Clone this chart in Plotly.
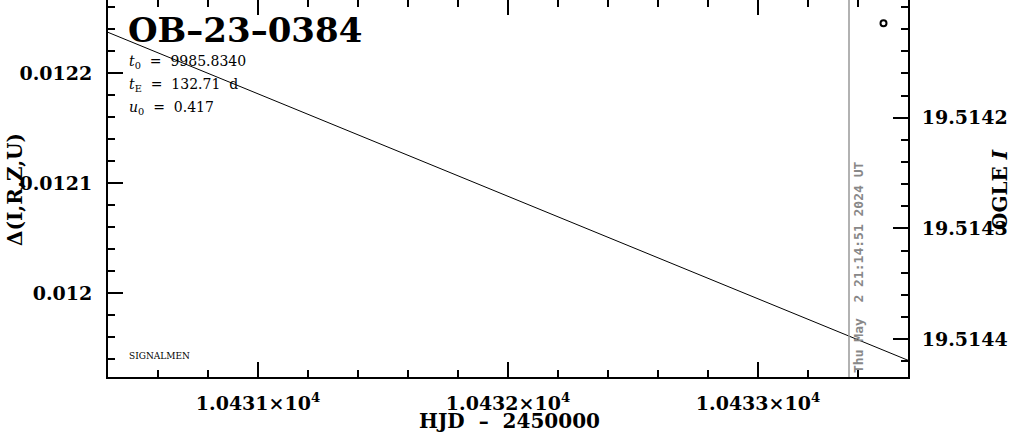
import plotly.graph_objects as go

# ---- data ----
hjd_model = [10430.4, 10431.2, 10432.0, 10432.8, 10433.6]
delta_model = [0.0122372, 0.0121627, 0.0120881, 0.0120136, 0.0119391]
hjd_obs = [10433.502]
delta_obs = [0.0122455]
now_hjd = 10433.364

x_tickvals = [10431, 10432, 10433]
x_ticktext = ["1.0431×10<sup>4</sup>", "1.0432×10<sup>4</sup>", "1.0433×10<sup>4</sup>"]
y_tickvals = [0.012, 0.0121, 0.0122]
y_ticktext = ["0.012", "0.0121", "0.0122"]
mag_tickvals = [19.5142, 19.5143, 19.5144]
mag_ticktext = ["19.5142", "19.5143", "19.5144"]

x_range = [10430.4, 10433.6]
y_range = [0.0119239, 0.0122666]
mag_range = [19.5144343, 19.5140936]

event_name = "OB–23–0384"
param_lines = [
    "<i>t</i><sub>0</sub> \u00a0= \u00a09985.8340",
    "<i>t</i><sub>E</sub> \u00a0= \u00a0132.71 \u00a0d",
    "<i>u</i><sub>0</sub> \u00a0= \u00a00.417",
]
stamp = "Thu May \u00a02 21:14:51 2024 UT"

SERIF = "DejaVu Serif"

fig = go.Figure()
fig.add_trace(go.Scatter(x=hjd_model, y=delta_model, mode="lines",
                         line=dict(color="black", width=1), showlegend=False,
                         hoverinfo="skip"))
fig.add_trace(go.Scatter(x=hjd_obs, y=delta_obs, mode="markers",
                         marker=dict(symbol="circle-open", size=6, color="black",
                                     line=dict(width=2, color="black")),
                         showlegend=False))
# dummy traces to activate the secondary axes
fig.add_trace(go.Scatter(x=[None], y=[None], xaxis="x", yaxis="y2", showlegend=False))
fig.add_trace(go.Scatter(x=[None], y=[None], xaxis="x2", yaxis="y", showlegend=False))

tickfont = dict(family=SERIF, size=19, color="black", weight="bold")

fig.update_layout(
    width=1011, height=434,
    margin=dict(l=108, r=103, t=0, b=57, autoexpand=False),
    plot_bgcolor="white", paper_bgcolor="white",
    xaxis=dict(range=x_range, tickmode="array", tickvals=x_tickvals, ticktext=x_ticktext,
               ticks="inside", ticklen=15, tickwidth=2, tickcolor="black",
               showline=True, linewidth=2, linecolor="black", showgrid=False,
               zeroline=False, tickfont=tickfont, ticklabelstandoff=8, automargin=False,
               minor=dict(tickmode="linear", tick0=10430.0, dtick=0.2, ticks="inside",
                          ticklen=7, tickwidth=2, tickcolor="black", showgrid=False)),
    xaxis2=dict(range=x_range, overlaying="x", side="top", matches="x",
                tickmode="array", tickvals=x_tickvals, showticklabels=False,
                ticks="inside", ticklen=15, tickwidth=2, tickcolor="black",
                showline=False, showgrid=False, zeroline=False, automargin=False,
                minor=dict(tickmode="linear", tick0=10430.0, dtick=0.2, ticks="inside",
                           ticklen=7, tickwidth=2, tickcolor="black", showgrid=False)),
    yaxis=dict(range=y_range, tickmode="array", tickvals=y_tickvals, ticktext=y_ticktext,
               ticks="inside", ticklen=15, tickwidth=2, tickcolor="black",
               showline=True, linewidth=2, linecolor="black", showgrid=False,
               zeroline=False, tickfont=tickfont, ticklabelstandoff=10, automargin=False,
               minor=dict(tickmode="linear", tick0=0.012, dtick=0.00002, ticks="inside",
                          ticklen=7, tickwidth=2, tickcolor="black", showgrid=False)),
    yaxis2=dict(range=mag_range, overlaying="y", side="right",
                tickmode="array", tickvals=mag_tickvals, ticktext=mag_ticktext,
                ticks="inside", ticklen=15, tickwidth=2, tickcolor="black",
                showline=True, linewidth=2, linecolor="black", showgrid=False,
                zeroline=False, tickfont=tickfont, ticklabelstandoff=8, automargin=False,
                minor=dict(tickmode="linear", tick0=19.5142, dtick=0.00002, ticks="inside",
                           ticklen=7, tickwidth=2, tickcolor="black", showgrid=False)),
)

fig.add_shape(type="line", xref="x", yref="paper", x0=now_hjd, x1=now_hjd, y0=0, y1=1,
              line=dict(color="#999999", width=1.5))

ann = []
ann.append(dict(text="<b>" + event_name + "</b>", xref="paper", yref="paper",
                x=0.023, y=0.92, xanchor="left", yanchor="middle", showarrow=False,
                font=dict(family=SERIF, size=34, color="black")))
for i, (t, py) in enumerate(zip(param_lines, [62, 85, 108])):
    ann.append(dict(text=t, xref="paper", yref="paper", x=0.024, y=(377 - py) / 377,
                    xanchor="left", yanchor="middle", showarrow=False,
                    font=dict(family=SERIF, size=14, color="black")))
ann.append(dict(text="SIGNALMEN", xref="paper", yref="paper", x=0.024, y=(377 - 356) / 377,
                xanchor="left", yanchor="middle", showarrow=False,
                font=dict(family=SERIF, size=9, color="black")))
ann.append(dict(text="<b>" + stamp + "</b>", xref="paper", yref="paper",
                x=(858 - 108) / 800, y=(377 - 268) / 377, textangle=-90,
                xanchor="center", yanchor="middle", showarrow=False,
                font=dict(family="DejaVu Sans Mono", size=13, color="#888888")))
ann.append(dict(text="<b>Δ(I,R,Z,U)</b>", xref="paper", yref="paper",
                x=(15 - 108) / 800, y=(377 - 190) / 377, textangle=-90,
                xanchor="center", yanchor="middle", showarrow=False,
                font=dict(family=SERIF, size=20, color="black")))
ann.append(dict(text="<b>OGLE <i>I</i></b>", xref="paper", yref="paper",
                x=(1000 - 108) / 800, y=(377 - 190) / 377, textangle=-90,
                xanchor="center", yanchor="middle", showarrow=False,
                font=dict(family=SERIF, size=20, color="black")))
ann.append(dict(text="<b>HJD \u00a0–\u00a0 2450000</b>", xref="paper", yref="paper",
                x=(509 - 108) / 800, y=(377 - 421) / 377,
                xanchor="center", yanchor="middle", showarrow=False,
                font=dict(family=SERIF, size=20, color="black")))
fig.update_layout(annotations=ann)

fig.write_html("out.html", config={"displayModeBar": False},
               post_script="document.body.style.margin='0';document.body.style.overflow='hidden';")
